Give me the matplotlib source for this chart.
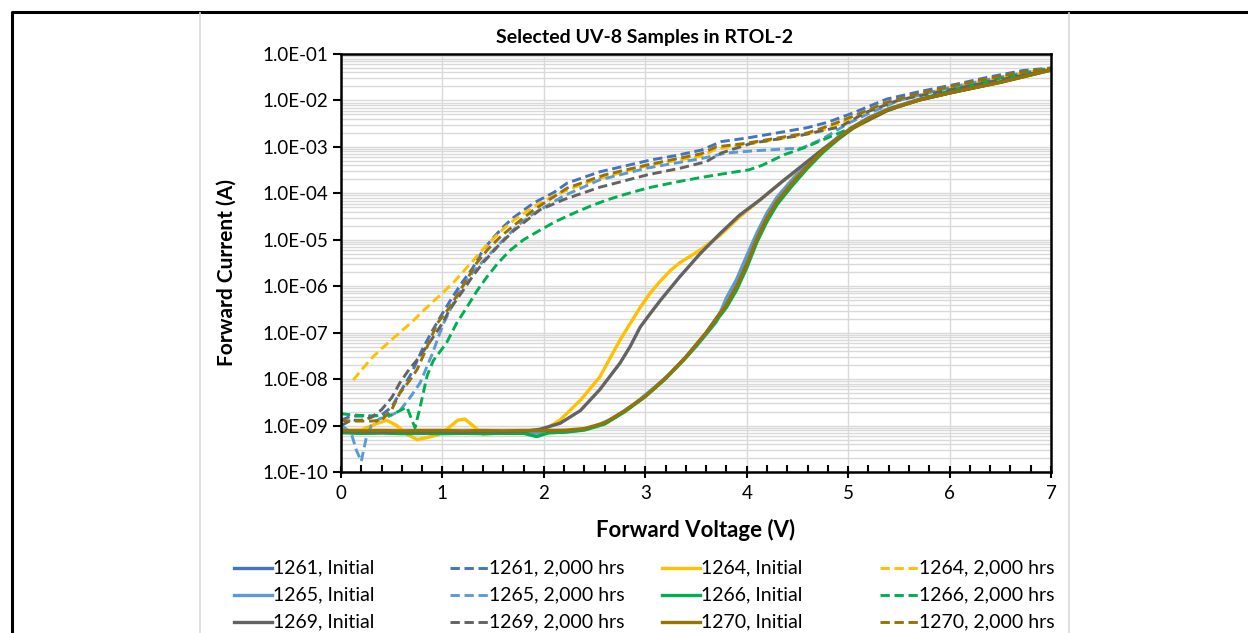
import numpy as np
import matplotlib
matplotlib.use('Agg')
import matplotlib.pyplot as plt
from matplotlib.lines import Line2D
from matplotlib.ticker import FuncFormatter, MultipleLocator, LogLocator

plt.rcParams['font.family'] = ['Lato', 'DejaVu Sans']

# forward voltage (V) / forward current (A)
v_1261_init = [0, 0.2, 0.4, 0.6, 0.8, 1.0, 1.2, 1.4, 1.6, 1.8, 2.0, 2.2, 2.4, 2.6, 2.8, 3.0, 3.2, 3.4, 3.6, 3.8, 3.9,
               4.0, 4.1, 4.2, 4.3, 4.45, 4.6, 4.75, 4.9, 5.05, 5.2, 5.4, 5.7, 6.0, 6.5, 7.0]
i_1261_init = [7.6e-10, 7.2e-10, 7.4e-10, 7.1e-10, 7.2e-10, 7.1e-10, 6.9e-10, 7.1e-10, 7.2e-10, 7.1e-10, 7.2e-10,
               7.4e-10, 8.3e-10, 1.12e-9, 2.1e-9, 4.3e-9, 1.05e-8, 3.0e-8, 1.0e-7, 4.2e-7, 1.05e-6,
               3.2e-6, 1.12e-5, 3.2e-5, 7.1e-5, 1.74e-4, 4.0e-4, 8.5e-4, 1.6e-3, 2.7e-3, 4.2e-3, 6.6e-3,
               1.05e-2, 1.48e-2, 2.5e-2, 4.6e-2]

v_1261_2k = [0, 0.1, 0.2, 0.3, 0.4, 0.5, 0.6, 0.7, 0.8, 0.9, 1.0, 1.1, 1.2, 1.3, 1.4, 1.5, 1.6, 1.7, 1.9, 2.1,
             2.23, 2.55, 3.05, 3.3, 3.55, 3.65, 3.75, 4.0, 4.3, 4.6, 4.8, 5.05, 5.38, 5.72, 6.05, 6.39, 6.72, 7.0]
i_1261_2k = [1.3e-9, 1.6e-9, 1.6e-9, 1.6e-9, 1.7e-9, 2.5e-9, 6.0e-9, 1.4e-8, 4.3e-8, 1.1e-7, 2.6e-7, 5.9e-7,
             1.26e-6, 2.5e-6, 6.0e-6, 1.1e-5, 1.9e-5, 3.0e-5, 6.2e-5, 1.05e-4,
             1.66e-4, 2.9e-4, 5.2e-4, 6.5e-4, 8.5e-4, 1.05e-3, 1.3e-3, 1.55e-3, 2.0e-3, 2.6e-3, 3.4e-3, 5.4e-3,
             1.07e-2, 1.58e-2, 2.2e-2, 3.2e-2, 4.4e-2, 5.0e-2]

v_1264_init = [0, 0.2, 0.35, 0.45, 0.55, 0.65, 0.75, 0.85, 0.95, 1.05, 1.15, 1.22, 1.3, 1.4, 1.5, 1.7, 1.9, 2.0,
               2.16, 2.36, 2.55, 2.75, 2.95, 3.05, 3.15, 3.25, 3.34, 3.54, 3.74, 3.93, 4.13, 4.37, 4.55, 4.71,
               4.88, 5.05, 5.4, 5.7, 6.0, 6.5, 7.0]
i_1264_init = [7.6e-10, 8.0e-10, 1.1e-9, 1.3e-9, 1.0e-9, 6.5e-10, 5.0e-10, 5.5e-10, 6.3e-10, 8.5e-10, 1.3e-9,
               1.38e-9, 1.0e-9, 6.5e-10, 6.8e-10, 7.2e-10, 7.4e-10, 8.0e-10,
               1.32e-9, 3.5e-9, 1.1e-8, 6.9e-8, 3.5e-7, 7.2e-7, 1.3e-6, 2.2e-6, 3.2e-6, 6.0e-6, 1.26e-5, 3.1e-5,
               7.2e-5, 1.95e-4, 3.6e-4, 7.6e-4, 1.45e-3, 2.5e-3, 6.3e-3, 1.02e-2, 1.45e-2, 2.5e-2, 4.6e-2]

v_1264_2k = [0.12, 0.2, 0.3, 0.4, 0.5, 0.6, 0.7, 0.8, 0.9, 1.0, 1.1, 1.2, 1.3, 1.4, 1.5, 1.6, 1.7, 1.9, 2.1, 2.3,
             2.55, 3.05, 3.55, 3.7, 4.0, 4.3, 4.6, 4.8, 5.05, 5.38, 5.72, 6.05, 6.39, 6.72, 7.0]
i_1264_2k = [9.5e-9, 1.55e-8, 2.8e-8, 4.5e-8, 7.1e-8, 1.1e-7, 1.7e-7, 2.8e-7, 4.5e-7, 7.1e-7, 1.15e-6, 2.0e-6,
             3.5e-6, 6.3e-6, 1.05e-5, 1.7e-5, 2.6e-5, 5.2e-5, 8.9e-5, 1.35e-4,
             2.1e-4, 4.1e-4, 6.3e-4, 9.0e-4, 1.15e-3, 1.45e-3, 1.9e-3, 2.5e-3, 4.2e-3, 8.5e-3, 1.35e-2,
             2.0e-2, 2.8e-2, 3.9e-2, 4.8e-2]

v_1265_init = [0, 0.1, 0.3, 0.5, 0.7, 0.9, 1.1, 1.3, 1.5, 1.7, 1.9, 2.1, 2.3, 2.5, 2.7, 2.9, 3.1, 3.3, 3.5, 3.7,
               3.8, 3.9, 4.0, 4.1, 4.2, 4.3, 4.45, 4.6, 4.75, 4.9, 5.05, 5.2, 5.4, 5.7, 6.0, 6.5, 7.0]
i_1265_init = [1.0e-9, 7.0e-10, 6.9e-10, 7.2e-10, 7.0e-10, 6.8e-10, 7.0e-10, 6.9e-10, 7.1e-10, 7.0e-10, 6.9e-10,
               7.1e-10, 7.6e-10, 9.5e-10, 1.5e-9, 3.0e-9, 6.9e-9, 1.7e-8, 5.0e-8, 1.7e-7,
               5.6e-7, 1.4e-6, 4.5e-6, 1.4e-5, 3.8e-5, 8.3e-5, 2.0e-4, 4.4e-4, 8.9e-4, 1.62e-3, 2.7e-3,
               4.2e-3, 6.6e-3, 1.05e-2, 1.48e-2, 2.5e-2, 4.6e-2]

v_1265_2k = [0, 0.1, 0.15, 0.2, 0.25, 0.3, 0.38, 0.48, 0.58, 0.68, 0.78, 0.9, 1.0, 1.1, 1.2, 1.3, 1.44, 1.6, 1.75,
             1.9, 2.2, 2.55, 3.02, 3.55, 3.8, 4.1, 4.55, 4.75, 5.0, 5.2, 5.5, 6.0, 6.5, 7.0]
i_1265_2k = [9.0e-10, 7.0e-10, 3.0e-10, 1.7e-10, 5.6e-10, 1.0e-9, 1.4e-9, 1.6e-9, 2.1e-9, 4.0e-9, 8.3e-9,
             3.5e-8, 1.4e-7, 4.0e-7, 1.0e-6, 2.0e-6, 4.3e-6, 1.0e-5, 2.1e-5,
             3.7e-5, 8.9e-5, 1.95e-4, 3.5e-4, 5.6e-4, 7.4e-4, 8.3e-4, 9.5e-4, 1.5e-3, 3.2e-3, 5.2e-3,
             1.0e-2, 1.9e-2, 3.2e-2, 5.0e-2]

v_1266_init = [0, 0.2, 0.4, 0.6, 0.8, 1.0, 1.2, 1.4, 1.6, 1.8, 1.93, 2.05, 2.2, 2.4, 2.6, 2.8, 3.0, 3.2, 3.4, 3.6,
               3.8, 3.9, 4.0, 4.1, 4.2, 4.3, 4.45, 4.6, 4.75, 4.9, 5.05, 5.2, 5.4, 5.7, 6.0, 6.5, 7.0]
i_1266_init = [7.0e-10, 6.8e-10, 6.9e-10, 6.7e-10, 6.8e-10, 6.7e-10, 6.8e-10, 6.7e-10, 6.8e-10, 6.8e-10, 5.8e-10,
               7.0e-10, 7.2e-10, 8.0e-10, 1.08e-9, 2.0e-9, 4.2e-9, 1.02e-8, 2.9e-8, 9.5e-8,
               3.5e-7, 8.3e-7, 2.5e-6, 8.9e-6, 2.5e-5, 5.8e-5, 1.48e-4, 3.5e-4, 7.6e-4, 1.45e-3, 2.55e-3,
               4.0e-3, 6.4e-3, 1.02e-2, 1.45e-2, 2.45e-2, 4.5e-2]

v_1266_2k = [0, 0.1, 0.3, 0.5, 0.6, 0.65, 0.7, 0.73, 0.78, 0.85, 0.91, 1.04, 1.14, 1.24, 1.34, 1.44, 1.55, 1.67,
             1.8, 1.96, 2.12, 2.29, 2.45, 2.62, 2.8, 3.02, 3.3, 3.55, 3.8, 4.02, 4.15, 4.37, 4.55, 4.71,
             4.98, 5.2, 5.38, 5.7, 6.05, 6.5, 7.0]
i_1266_2k = [1.8e-9, 1.7e-9, 1.6e-9, 1.7e-9, 2.2e-9, 2.5e-9, 1.3e-9, 9.0e-10, 2.5e-9, 1.2e-8, 2.5e-8, 6.0e-8,
             1.6e-7, 3.5e-7, 7.9e-7, 1.6e-6, 3.2e-6, 6.0e-6,
             1.0e-5, 1.6e-5, 2.5e-5, 3.7e-5, 5.2e-5, 7.2e-5, 9.5e-5, 1.3e-4, 1.74e-4, 2.2e-4, 2.7e-4, 3.2e-4,
             4.0e-4, 6.8e-4, 9.3e-4, 1.3e-3, 2.3e-3, 3.8e-3, 5.9e-3, 1.05e-2, 1.74e-2, 3.0e-2, 5.0e-2]

v_1269_init = [0, 0.2, 0.4, 0.6, 0.8, 1.0, 1.2, 1.4, 1.6, 1.8, 1.96, 2.16, 2.36, 2.55, 2.75, 2.85, 2.95, 3.05,
               3.15, 3.34, 3.54, 3.74, 3.93, 4.13, 4.37, 4.71, 5.05, 5.4, 5.7, 6.0, 6.5, 7.0]
i_1269_init = [7.6e-10, 7.4e-10, 7.3e-10, 7.4e-10, 7.3e-10, 7.4e-10, 7.3e-10, 7.4e-10, 7.4e-10, 7.5e-10, 8.3e-10,
               1.12e-9, 2.1e-9, 5.9e-9, 2.2e-8, 5.0e-8, 1.32e-7, 2.6e-7, 5.0e-7, 1.6e-6,
               5.0e-6, 1.38e-5, 3.4e-5, 7.2e-5, 1.95e-4, 7.6e-4, 2.6e-3, 6.3e-3, 1.02e-2, 1.45e-2, 2.5e-2, 4.6e-2]

v_1269_2k = [0, 0.1, 0.2, 0.3, 0.4, 0.5, 0.58, 0.67, 0.75, 0.83, 0.91, 1.0, 1.07, 1.2, 1.3, 1.4, 1.55, 1.7, 1.96,
             2.2, 2.55, 3.02, 3.35, 3.6, 3.75, 4.05, 4.55, 4.92, 5.18, 5.5, 6.0, 6.5, 7.0]
i_1269_2k = [1.0e-9, 1.3e-9, 1.3e-9, 1.5e-9, 2.2e-9, 4.0e-9, 8.3e-9, 1.6e-8, 2.6e-8, 4.5e-8, 8.1e-8, 1.6e-7,
             3.1e-7, 7.9e-7, 1.66e-6, 3.2e-6, 7.4e-6, 1.55e-5, 4.4e-5,
             7.4e-5, 1.35e-4, 2.5e-4, 3.5e-4, 4.8e-4, 7.4e-4, 1.2e-3, 1.8e-3, 2.7e-3, 5.6e-3, 1.02e-2,
             1.7e-2, 2.8e-2, 4.6e-2]

v_1270_init = [0, 0.2, 0.4, 0.6, 0.8, 1.0, 1.2, 1.4, 1.6, 1.8, 2.0, 2.2, 2.4, 2.6, 2.8, 3.0, 3.2, 3.4, 3.6, 3.8,
               3.9, 4.0, 4.1, 4.2, 4.3, 4.45, 4.6, 4.75, 4.9, 5.05, 5.2, 5.4, 5.7, 6.0, 6.5, 7.0]
i_1270_init = [7.8e-10, 7.7e-10, 7.8e-10, 7.7e-10, 7.8e-10, 7.8e-10, 7.7e-10, 7.8e-10, 7.7e-10, 7.8e-10, 7.8e-10,
               7.9e-10, 8.6e-10, 1.14e-9, 2.1e-9, 4.3e-9, 1.05e-8, 3.0e-8, 1.0e-7, 4.0e-7,
               1.0e-6, 3.0e-6, 1.05e-5, 3.0e-5, 6.8e-5, 1.7e-4, 3.9e-4, 8.3e-4, 1.55e-3, 2.65e-3, 4.1e-3,
               6.5e-3, 1.03e-2, 1.45e-2, 2.45e-2, 4.5e-2]

v_1270_2k = [0, 0.1, 0.2, 0.3, 0.4, 0.5, 0.58, 0.67, 0.75, 0.85, 0.95, 1.07, 1.2, 1.34, 1.45, 1.57, 1.7, 1.9,
             2.23, 2.6, 3.02, 3.3, 3.55, 3.7, 4.0, 4.3, 4.6, 4.8, 5.05, 5.38, 5.72, 6.05, 6.39, 6.72, 7.0]
i_1270_2k = [1.3e-9, 1.25e-9, 1.25e-9, 1.25e-9, 1.3e-9, 2.2e-9, 5.0e-9, 8.9e-9, 1.6e-8, 5.0e-8, 1.6e-7, 3.5e-7,
             1.0e-6, 3.2e-6, 6.3e-6, 1.15e-5, 2.0e-5, 4.4e-5,
             1.3e-4, 2.5e-4, 4.1e-4, 5.5e-4, 7.1e-4, 1.0e-3, 1.2e-3, 1.55e-3, 2.0e-3, 2.8e-3, 4.6e-3,
             9.1e-3, 1.45e-2, 2.1e-2, 3.0e-2, 4.1e-2, 4.9e-2]

labels = ['1261, Initial', '1261, 2,000 hrs', '1264, Initial', '1264, 2,000 hrs',
          '1265, Initial', '1265, 2,000 hrs', '1266, Initial', '1266, 2,000 hrs',
          '1269, Initial', '1269, 2,000 hrs', '1270, Initial', '1270, 2,000 hrs']
voltages = [v_1261_init, v_1261_2k, v_1264_init, v_1264_2k, v_1265_init, v_1265_2k,
            v_1266_init, v_1266_2k, v_1269_init, v_1269_2k, v_1270_init, v_1270_2k]
currents = [i_1261_init, i_1261_2k, i_1264_init, i_1264_2k, i_1265_init, i_1265_2k,
            i_1266_init, i_1266_2k, i_1269_init, i_1269_2k, i_1270_init, i_1270_2k]
colors = ['#4472C4', '#4472C4', '#FFC000', '#FFC000', '#5B9BD5', '#5B9BD5',
          '#00B050', '#00B050', '#636363', '#636363', '#997300', '#997300']
dashed = [False, True] * 6

W, H = 1248, 633
def fx(x):
    return x / W
def fy(y):
    return 1 - y / H

fig = plt.figure(figsize=(W / 100, H / 100), dpi=100)
ax = fig.add_axes([fx(341), fy(472), fx(1051) - fx(341), fy(54) - fy(472)])

for v, cur, col, d in zip(voltages, currents, colors, dashed):
    if d:
        ax.plot(v, cur, color=col, lw=2.1, dashes=(3.2, 1.6), solid_joinstyle='round')
    else:
        ax.plot(v, cur, color=col, lw=2.4, solid_joinstyle='round')

ax.set_yscale('log')
ax.set_xlim(0, 7)
ax.set_ylim(1e-10, 1e-1)
ax.xaxis.set_major_locator(MultipleLocator(1))
ax.xaxis.set_minor_locator(MultipleLocator(0.2))
ax.yaxis.set_major_locator(LogLocator(base=10, numticks=20))
ax.yaxis.set_minor_locator(LogLocator(base=10, subs=np.arange(2, 10), numticks=20))
ax.yaxis.set_major_formatter(FuncFormatter(lambda val, pos: f'{val:.1E}'))
ax.yaxis.set_minor_formatter(FuncFormatter(lambda val, pos: ''))

ax.grid(True, which='major', axis='x', color='#D9D9D9', lw=1.0)
ax.grid(True, which='both', axis='y', color='#D9D9D9', lw=1.0)
ax.set_axisbelow(True)
for s in ax.spines.values():
    s.set_color('black')
    s.set_linewidth(1.8)

ax.tick_params(axis='x', which='major', direction='inout', length=9, width=1.5, labelsize=13.5, pad=5)
ax.tick_params(axis='x', which='minor', direction='in', length=5, width=1.5)
ax.tick_params(axis='y', which='major', direction='out', length=6, width=1.5, labelsize=13.5, pad=3)
ax.tick_params(axis='y', which='minor', length=0)

fig.text(fx(696), fy(530), 'Forward Voltage (V)', fontsize=16, fontweight='bold', ha='center', va='center')
fig.text(fx(227), fy(272), 'Forward Current (A)', fontsize=15, fontweight='bold', ha='center', va='center',
         rotation=90)
fig.text(fx(644), fy(38), 'Selected UV-8 Samples in RTOL-2', fontsize=14, fontweight='bold',
         ha='center', va='center')

# page frame and chart area border
fig.add_artist(Line2D([fx(12), fx(12), 1.0], [0.0, fy(12), fy(12)], color='black', lw=2.2,
                      transform=fig.transFigure))
for xb in (200, 1069):
    fig.add_artist(Line2D([fx(xb), fx(xb)], [0.0, fy(13)], color='#D9D9D9', lw=1.2,
                          transform=fig.transFigure))

# legend: 3 rows x 4 equally spaced columns
col_x = [234, 450, 662, 880]
row_y = [568, 595, 622]
for k, (lab, col, d) in enumerate(zip(labels, colors, dashed)):
    x0 = col_x[k % 4]
    y0 = row_y[k // 4]
    if d:
        fig.add_artist(Line2D([fx(x0), fx(x0 + 38)], [fy(y0), fy(y0)], color=col, lw=2.1, dashes=(3.2, 1.6),
                              transform=fig.transFigure))
    else:
        fig.add_artist(Line2D([fx(x0), fx(x0 + 38)], [fy(y0), fy(y0)], color=col, lw=2.4,
                              transform=fig.transFigure))
    fig.text(fx(x0 + 39), fy(y0), lab, fontsize=14, ha='left', va='center')

fig.savefig('out.png', dpi=100)
